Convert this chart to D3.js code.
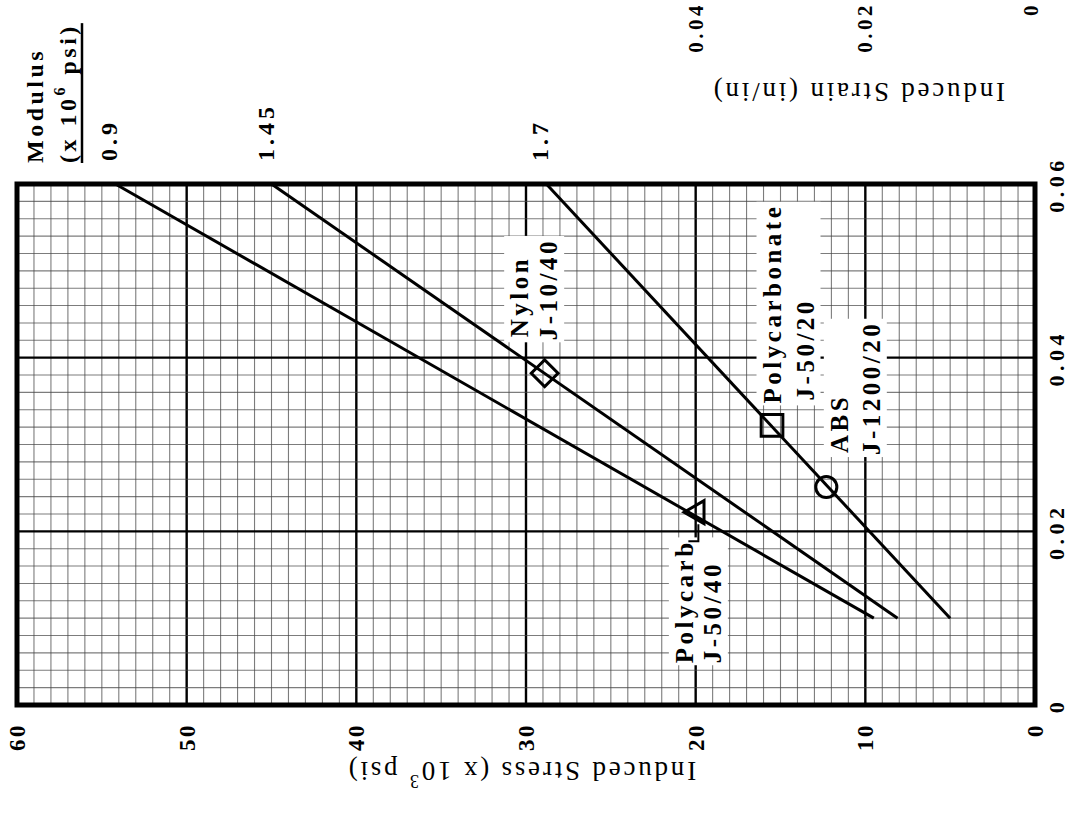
<!DOCTYPE html>
<html><head><meta charset="utf-8">
<script src="https://cdn.jsdelivr.net/npm/d3@7"></script>
<style>html,body{margin:0;padding:0;background:#fff;overflow:hidden}</style>
</head><body><svg id="c" width="1071" height="827"></svg>
<script>
// ---- data ----
const stressTicks = [0, 10, 20, 30, 40, 50, 60];
const stressTickLabels = ["0", "10", "20", "30", "40", "50", "60"];
const strainTicks = [0, 0.02, 0.04, 0.06];
const strainTickLabels = ["0", "0.02", "0.04", "0.06"];
const modulusLabels = ["0.9", "1.45", "1.7"];
const lineStrainStart = [0.01, 0.01, 0.01];
const lineStrainEnd = [0.06, 0.06, 0.06];
const lineStressStart = [9.5, 8.1, 5.0];
const lineStressEnd = [54.2, 45.0, 28.8];
const markerShapes = ["triangle", "diamond", "square", "circle"];
const markerStrain = [0.0222, 0.0382, 0.0322, 0.0251];
const markerStress = [19.9, 28.9, 15.5, 12.3];
const markerLabel1 = ["Polycarb", "Nylon", "Polycarbonate", "ABS"];
const markerLabel2 = ["J-50/40", "J-10/40", "J-50/20", "J-1200/20"];
const topCutStress = [20, 10, 0];
const topCutLabels = ["0.04", "0.02", "0"];

// ---- layout ----
const svg = d3.select("#c");
const x = d3.scaleLinear().domain([0, 60]).range([1035, 17]);     // stress -> horizontal
const y = d3.scaleLinear().domain([0, 0.06]).range([705, 184]);   // strain -> vertical
const SERIF = "'Liberation Serif','Times New Roman',serif";

function vtext(g, px, py, str, size, anchor, weight, ls) {
  return g.append("text")
    .attr("transform", `translate(${px},${py}) rotate(-90)`)
    .attr("text-anchor", anchor)
    .attr("dominant-baseline", "central")
    .style("font-family", SERIF)
    .style("font-size", size + "px")
    .style("font-weight", weight)
    .style("letter-spacing", ls + "px")
    .attr("fill", "#000")
    .text(str);
}

// grid
const grid = svg.append("g");
const minorStress = d3.range(0, 61, 1);
const minorStrain = d3.range(0, 31).map(k => k * 0.002);
grid.selectAll("line.vx").data(minorStress).join("line")
  .attr("x1", d => x(d)).attr("x2", d => x(d))
  .attr("y1", y(0)).attr("y2", y(0.06))
  .attr("stroke", d => d % 10 === 0 ? "#000" : "#444")
  .attr("stroke-width", d => d % 10 === 0 ? 2.4 : 1.1)
  .attr("stroke-opacity", d => d % 10 === 0 ? 1 : 0.7);
grid.selectAll("line.hy").data(minorStrain).join("line")
  .attr("y1", d => y(d)).attr("y2", d => y(d))
  .attr("x1", x(0)).attr("x2", x(60))
  .attr("stroke", (d, i) => i % 10 === 0 ? "#000" : "#444")
  .attr("stroke-width", (d, i) => i % 10 === 0 ? 2.4 : 1.1)
  .attr("stroke-opacity", (d, i) => i % 10 === 0 ? 1 : 0.7);

// frame
svg.append("rect")
  .attr("x", x(60)).attr("y", y(0.06))
  .attr("width", x(0) - x(60)).attr("height", y(0) - y(0.06))
  .attr("fill", "none").attr("stroke", "#000").attr("stroke-width", 5);

// stress axis (bottom)
const ax = svg.append("g").attr("transform", `translate(0,${y(0)})`)
  .call(d3.axisBottom(x).tickValues(stressTicks).tickSize(0)
    .tickFormat((d, i) => stressTickLabels[i]));
ax.select(".domain").remove();
ax.selectAll("text")
  .attr("transform", "rotate(-90)")
  .attr("x", -18).attr("y", 0).attr("dy", null)
  .attr("text-anchor", "end").attr("dominant-baseline", "central")
  .style("font-family", SERIF).style("font-size", "23px")
  .style("font-weight", "bold").style("letter-spacing", "2.5px").attr("fill", "#000");

// strain axis (right)
const ay = svg.append("g").attr("transform", `translate(${x(0)},0)`)
  .call(d3.axisRight(y).tickValues(strainTicks).tickSize(0)
    .tickFormat((d, i) => strainTickLabels[i]));
ay.select(".domain").remove();
ay.selectAll("text")
  .attr("transform", "rotate(-90)")
  .attr("x", 0).attr("y", 21).attr("dy", null)
  .attr("text-anchor", "middle").attr("dominant-baseline", "central")
  .style("font-family", SERIF).style("font-size", "22px")
  .style("font-weight", "bold").style("letter-spacing", "4.5px").attr("fill", "#000");

// labels at top edge (adjacent chart's strain scale)
topCutStress.forEach((s, i) => {
  vtext(svg, x(s) - (s === 0 ? 4 : 0), 2, topCutLabels[i], 21, "end", "bold", 3.5);
});

// axis titles (upside down)
svg.append("text")
  .attr("transform", `translate(${(x(40) + x(20)) / 2 - 5},771) rotate(180)`)
  .attr("text-anchor", "middle").attr("dominant-baseline", "central")
  .style("font-family", SERIF).style("font-size", "27px").style("letter-spacing", "2.8px")
  .call(t => {
    t.append("tspan").text("Induced Stress (x 10");
    t.append("tspan").attr("baseline-shift", "super").style("font-size", "18px").text("3");
    t.append("tspan").text(" psi)");
  });
svg.append("text")
  .attr("transform", `translate(858,92) rotate(180)`)
  .attr("text-anchor", "middle").attr("dominant-baseline", "central")
  .style("font-family", SERIF).style("font-size", "27px").style("letter-spacing", "2.8px")
  .text("Induced Strain (in/in)");

// Modulus heading
vtext(svg, 35, 163, "Modulus", 24, "start", "bold", 3.5);
const mod2 = svg.append("text")
  .attr("transform", `translate(68,163) rotate(-90)`)
  .attr("text-anchor", "start").attr("dominant-baseline", "central")
  .style("font-family", SERIF).style("font-size", "24px").style("font-weight", "bold")
  .style("letter-spacing", "3.5px");
mod2.append("tspan").text("(x 10");
mod2.append("tspan").attr("baseline-shift", "super").style("font-size", "16px").text("6");
mod2.append("tspan").text(" psi)");
const mlen = mod2.node().getComputedTextLength();
svg.append("line").attr("x1", 82).attr("x2", 82)
  .attr("y1", 163).attr("y2", 163 - mlen)
  .attr("stroke", "#000").attr("stroke-width", 2.5);

// lines
const lineGen = d3.line().x(d => x(d[1])).y(d => y(d[0]));
modulusLabels.forEach((m, i) => {
  const pts = [[lineStrainStart[i], lineStressStart[i]], [lineStrainEnd[i], lineStressEnd[i]]];
  svg.append("path").attr("d", lineGen(pts))
    .attr("fill", "none").attr("stroke", "#000").attr("stroke-width", 3);
  vtext(svg, x(lineStressEnd[i]) - 6, 161, m, 24, "start", "bold", 4);
});

// labels (white patches behind)
const labOff = [
  {a: [-13, 151], b: [15, 151]},
  {a: [-25, -36], b: [4, -33]},
  {a: [0, -22], b: [33, -25]},
  {a: [13, -34], b: [45, -32]}
];
markerShapes.forEach((s, i) => {
  const mx = x(markerStress[i]), my = y(markerStrain[i]);
  const g = svg.append("g");
  const bg = g.append("rect").attr("fill", "#fff");
  vtext(g, mx + labOff[i].a[0], my + labOff[i].a[1], markerLabel1[i], 25, "start", "bold", 3.5);
  vtext(g, mx + labOff[i].b[0], my + labOff[i].b[1], markerLabel2[i], 25, "start", "bold", 3.5);
  const bb = g.node().getBBox();
  bg.attr("x", bb.x - 2).attr("y", bb.y - 2).attr("width", bb.width + 4).attr("height", bb.height + 4);
});

// markers
const symType = {triangle: d3.symbolTriangle, diamond: d3.symbolSquare, square: d3.symbolSquare, circle: d3.symbolCircle};
const symSize = {triangle: 230, diamond: 360, square: 470, circle: 350};
const symRot = {triangle: -90, diamond: 45, square: 0, circle: 0};
markerShapes.forEach((s, i) => {
  const mx = x(markerStress[i]), my = y(markerStrain[i]);
  svg.append("path")
    .attr("d", d3.symbol().type(symType[s]).size(symSize[s])())
    .attr("transform", `translate(${mx},${my}) rotate(${symRot[s]})`)
    .attr("fill", "none").attr("stroke", "#000").attr("stroke-width", 3);
  if (i === 0) {
    svg.append("polyline")
      .attr("points", `${mx - 9},${my + 29} ${mx + 1},${my + 29} ${mx + 1},${my + 12}`)
      .attr("fill", "none").attr("stroke", "#000").attr("stroke-width", 2);
  }
});
</script>
</body></html>
